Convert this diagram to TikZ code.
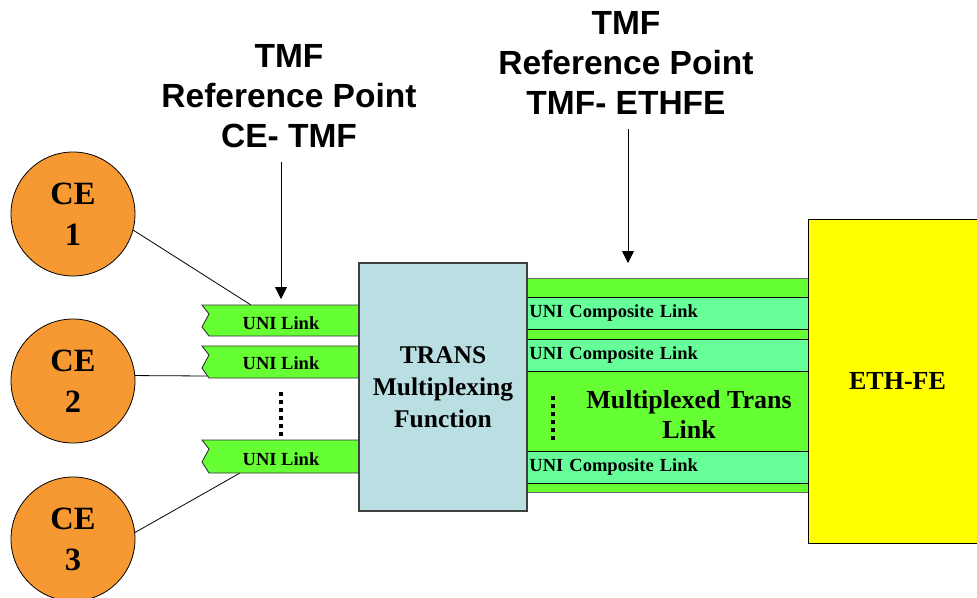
\documentclass[tikz,border=0pt]{standalone}
\usepackage{fontspec}
\setmainfont{Liberation Serif}
\newfontfamily\arialfont{Liberation Sans}
\usetikzlibrary{arrows.meta}

\definecolor{ceorange}{RGB}{247,153,51}
\definecolor{linkgreen}{RGB}{102,255,51}
\definecolor{compmint}{RGB}{102,255,153}
\definecolor{transblue}{RGB}{185,223,227}
\definecolor{ethyellow}{RGB}{255,255,0}

\tikzset{
    ce/.style = {circle, draw = black, line width = 0.8pt, fill = ceorange, minimum size = 124pt, inner sep = 0pt, align = center, font = {\fontsize{32.5}{41}\selectfont\bfseries}},
    refpoint/.style = {align = center, inner sep = 14pt, font = {\arialfont\fontsize{33.5}{40}\selectfont\bfseries}},
    refarrow/.style = {line width = 0.8pt, -{Triangle[length = 12pt, width = 12pt]}},
    unilink/.style = {fill = linkgreen, draw = black!80, line width = 0.9pt},
    unitext/.style = {font = {\fontsize{18.5}{22}\selectfont\bfseries}},
    muxband/.style = {fill = linkgreen, draw = black!60, line width = 0.9pt},
    complink/.style = {rectangle, anchor = north west, fill = compmint, draw = black, line width = 0.8pt, minimum width = 281pt, minimum height = 32pt, text width = 277pt, inner xsep = 2pt, align = left, font = {\fontsize{18.5}{22}\selectfont\bfseries}},
    muxtext/.style = {align = center, font = {\fontsize{26}{30}\selectfont\bfseries}},
    transbox/.style = {rectangle, fill = transblue, draw = black!75, line width = 1.2pt, minimum width = 168pt, minimum height = 248pt, align = center, font = {\fontsize{25.5}{32}\selectfont\bfseries}},
    ethbox/.style = {rectangle, fill = ethyellow, draw = black, line width = 1pt, minimum width = 179pt, minimum height = 324pt, font = {\fontsize{26}{30}\selectfont\bfseries}},
    dotline/.style = {line width = 3.5pt, dash pattern = on 3.5pt off 4.5pt}
}

\begin{document}
\begin{tikzpicture}[x = 1pt, y = -1pt]
            \useasboundingbox (0, 0) rectangle (977, 597);

            \node[ce] (ce1) at (73, 214) {CE\\1};
            \node[ce] (ce2) at (73, 381) {CE\\2};
            \node[ce] (ce3) at (73, 539) {CE\\3};

            \coordinate (l1in) at (251, 305);
            \coordinate (l2in) at (207, 376);
            \coordinate (l3in) at (240, 473);
            \draw[line width = 0.8pt] (ce1.-15) -- (l1in);
            \draw[line width = 0.8pt] (ce2.5) -- (l2in);
            \draw[line width = 0.8pt] (ce3.6) -- (l3in);

            \draw[unilink] (358, 305) -- (202, 305) -- (209, 314) -- (202, 327) -- (209, 336) -- (358, 336);
            \draw[unilink] (358, 346) -- (202, 346) -- (209, 355) -- (202, 368) -- (209, 378) -- (358, 378);
            \draw[unilink] (358, 440) -- (202, 440) -- (209, 449) -- (202, 462) -- (209, 473) -- (358, 473);
            \node[unitext] (uni1) at (281, 323) {UNI Link};
            \node[unitext] (uni2) at (281, 363) {UNI Link};
            \node[unitext] (uni3) at (281, 459) {UNI Link};
            \draw[dotline] (281, 392) -- (281, 436);

            \draw[muxband] (527, 278) rectangle (808, 492);
            \node[complink] (comp1) at (527, 297) {UNI Composite Link};
            \node[complink] (comp2) at (527, 339) {UNI Composite Link};
            \node[complink] (comp3) at (527, 451) {UNI Composite Link};
            \node[muxtext] (muxlink) at (689, 414) {Multiplexed Trans\\Link};
            \draw[dotline] (553, 396) -- (553, 440);

            \node[transbox] (trans) at (443, 387) {TRANS\\Multiplexing\\Function};
            \node[ethbox] (ethfe) at (897.5, 381) {ETH-FE};

            \node[refpoint] (rpce) at (289, 96) {TMF\\Reference Point\\CE- TMF};
            \node[refpoint] (rpeth) at (626, 63) {TMF\\Reference Point\\TMF- ETHFE};
            \coordinate (rpcetip) at (281, 299);
            \coordinate (rpethtip) at (628, 263);
            \draw[refarrow] (rpce.south -| rpcetip) -- (rpcetip);
            \draw[refarrow] (rpeth.south -| rpethtip) -- (rpethtip);
        \end{tikzpicture}
\end{document}
